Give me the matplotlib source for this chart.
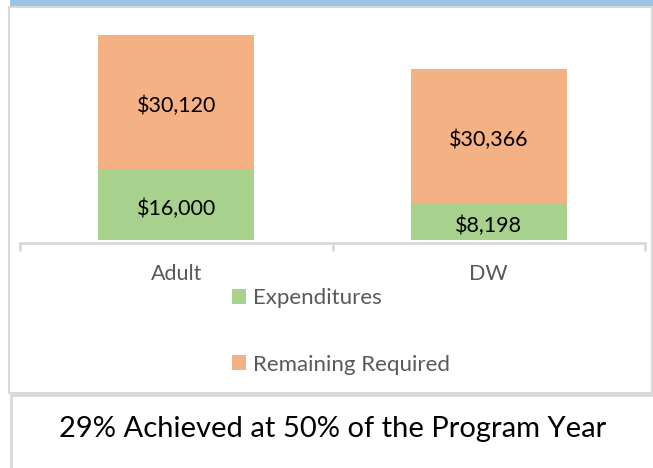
import matplotlib
matplotlib.use("Agg")
import matplotlib.pyplot as plt
from matplotlib.patches import Rectangle

# data
categories = ["Adult", "DW"]
expenditures = [16000, 8198]
remaining = [30120, 30366]
series_names = ["Expenditures", "Remaining Required"]
caption = "29% Achieved at 50% of the Program Year"

GREEN = "#A9D18E"
ORANGE = "#F4B183"
GREY_TXT = "#595959"
BORDER = "#D9D9D9"

plt.rcParams["font.family"] = ["Lato", "DejaVu Sans"]

W, H = 653, 468
fig = plt.figure(figsize=(W / 100, H / 100), dpi=100)


def fx(px):
    return px / W


def fy(py):
    return 1 - py / H


# frames drawn in figure pixels
fig.patches.append(Rectangle((fx(10), fy(6.5)), fx(653) - fx(10), 6.5 / H,
                             transform=fig.transFigure, color="#9DC3E6", lw=0))
fig.patches.append(Rectangle((fx(8.5), fy(393)), fx(652) - fx(8.5), (393 - 7) / H,
                             transform=fig.transFigure, fill=False, ec=BORDER, lw=1.5))
fig.patches.append(Rectangle((fx(10.5), fy(480)), fx(670) - fx(10.5), (480 - 395.5) / H,
                             transform=fig.transFigure, fill=False, ec=BORDER, lw=2))

# axes: x from 20 to 645 px, bottom (axis line) at 243 px, top at 18 px
ax = fig.add_axes([fx(20), fy(243), fx(645) - fx(20), (243 - 18) / H])
ax.set_facecolor("none")
x = range(len(categories))
b1 = ax.bar(x, expenditures, width=0.5, color=GREEN, label=series_names[0])
b2 = ax.bar(x, remaining, width=0.5, bottom=expenditures, color=ORANGE, label=series_names[1])
for bars, vals in [(b1, expenditures), (b2, remaining)]:
    txts = ax.bar_label(bars, labels=["${:,}".format(v) for v in vals], label_type="center",
                        fontsize=15.5, color="black")
    for t in txts:
        t.set_y(t.get_position()[1] - 3)  # nudge down a little, like the original

ax.set_xlim(-0.5, 1.5)
ax.set_ylim(-675, 49945)
for s in ["top", "right", "left"]:
    ax.spines[s].set_visible(False)
ax.spines["bottom"].set_color(BORDER)
ax.spines["bottom"].set_linewidth(2)
ax.set_yticks([])
ax.set_xticks(list(x))
ax.set_xticklabels(categories, fontsize=15.5, color=GREY_TXT)
ax.tick_params(axis="x", which="major", length=0, pad=15)
ax.set_xticks([-0.5, 0.5, 1.5], minor=True)
ax.tick_params(axis="x", which="minor", length=6, width=2, color=BORDER, direction="out")

fig.legend(handles=[b1, b2], labels=series_names, loc="upper left",
           bbox_to_anchor=(fx(232), fy(288)), frameon=False, fontsize=16,
           labelcolor=GREY_TXT, handlelength=0.65, handleheight=0.65,
           handletextpad=0.3, labelspacing=2.1, borderpad=0, borderaxespad=0)

fig.text(fx(333), fy(429), caption, ha="center", va="center", fontsize=21, color="black")

fig.savefig("out.png", dpi=100)
